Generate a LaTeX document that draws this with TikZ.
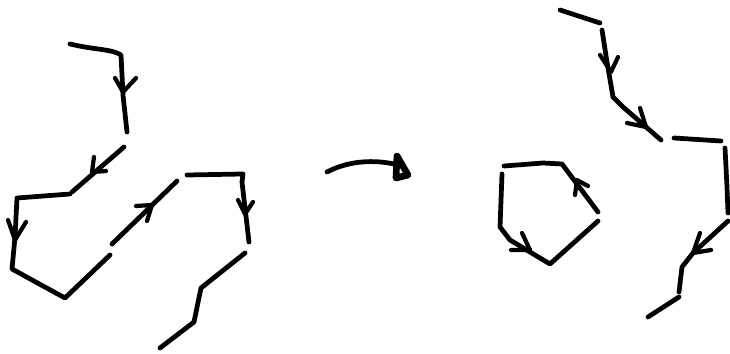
\documentclass[tikz,border=0pt]{standalone}
\usetikzlibrary{positioning}

\begin{document}
\begin{tikzpicture}[x=0.02cm, y=-0.02cm,
        ink/.style={line width=2.7pt, line cap=round, line join=round},
        barb/.style={ink, line width=2.4pt},
        head/.style={ink, line width=3.8pt}]

    \useasboundingbox (0,0) rectangle (730,354);

    % left: broken loop of strokes
    \draw[ink] (70,44) .. controls (95,50) and (112,49) .. (121,55) -- (123,95) -- (127,132);
    \draw[ink] (124,147) -- (72,192);
    \draw[ink] (70,194) -- (17,198) -- (15,237) -- (12,269) -- (65,298) -- (110,255);
    \draw[ink] (112,244) -- (177,181);
    \draw[ink] (187,175) -- (243,174) -- (242,182) -- (249,242);
    \draw[ink] (245,253) -- (201,288) -- (194,322) -- (160,348);

    % barbs on the left strokes
    \foreach \ax/\ay/\tx/\ty/\bx/\by in {
            115/78/123/92/136/78,
            94/157/92/172/106/171,
            8/220/15/240/26/222,
            136/206/152/205/147/221,
            238/200/245/214/253/202} {
        \draw[barb] (\ax,\ay) -- (\tx,\ty) -- (\bx,\by);
    }

    % middle: curved arrow
    \draw[ink] (327,172) .. controls (350,160) and (375,160) .. (394,164);
    \draw[head] (397,156) -- (408,175) -- (396,178) -- cycle;

    % right: closed pentagon
    \draw[ink] (504,166) -- (543,163) -- (562,164) -- (598,212);
    \draw[ink] (502,174) -- (500,227) -- (510,240) -- (550,264) -- (598,221);

    % right: open chain
    \draw[ink] (560,10) -- (600,23);
    \draw[ink] (602,30) -- (607,62) -- (613,97) -- (623,107) -- (661,140);
    \draw[ink] (674,138) -- (721,141);
    \draw[ink] (725,148) -- (727,187) -- (728,213);
    \draw[ink] (728,221) -- (693,253) -- (682,267) -- (679,292);
    \draw[ink] (679,297) -- (648,317);

    % barbs on the right strokes
    \foreach \ax/\ay/\tx/\ty/\bx/\by in {
            600/55/611/72/618/57,
            627/123/646/127/640/108,
            575/195/577/180/588/186,
            522/233/530/250/511/250,
            700/233/693/253/711/250} {
        \draw[barb] (\ax,\ay) -- (\tx,\ty) -- (\bx,\by);
    }
\end{tikzpicture}
\end{document}
